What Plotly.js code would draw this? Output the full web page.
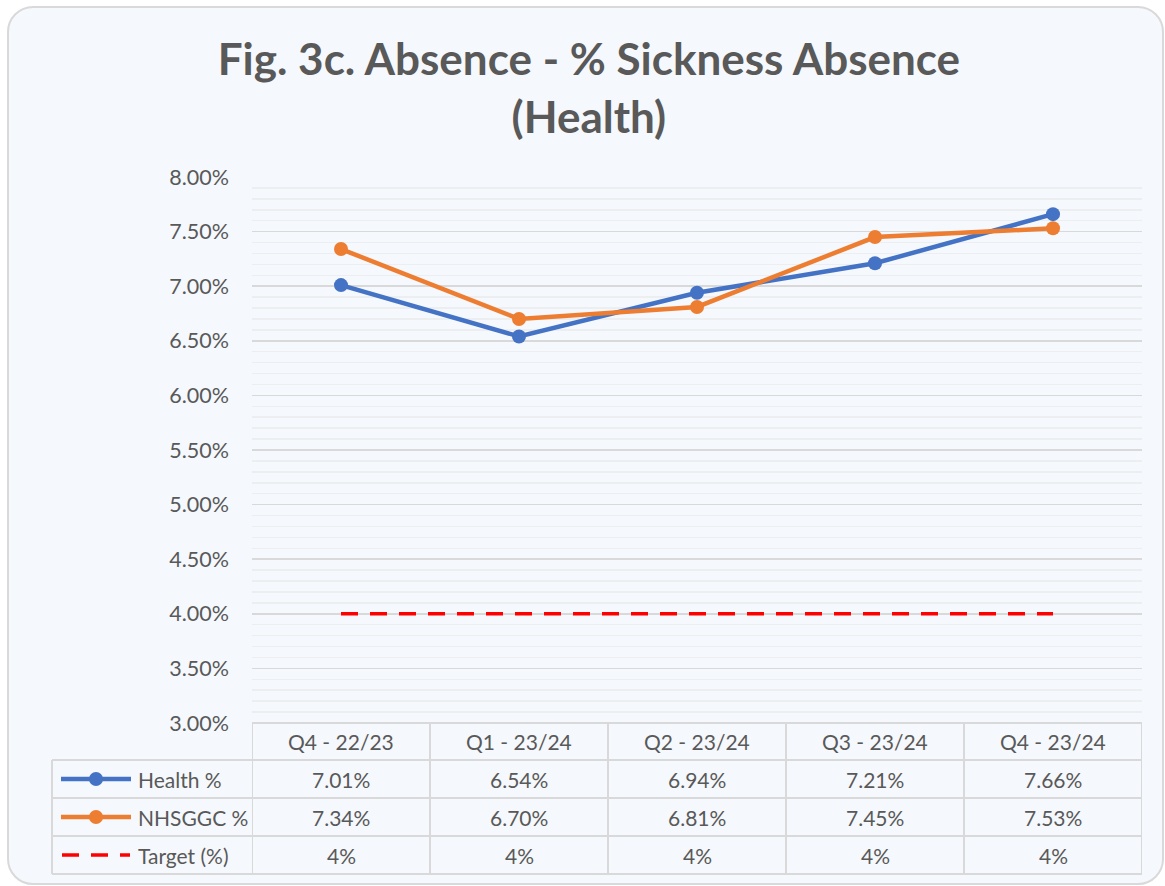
<!DOCTYPE html>
<html>
<head>
<meta charset="utf-8">
<script src="https://cdn.plot.ly/plotly-3.0.1.min.js"></script>
<style>
  html, body { margin:0; padding:0; background:#ffffff; }
  #frame { position:absolute; left:7px; top:6px; width:1153px; height:875px;
           border:2px solid #D9D9D9; border-radius:26px; background:#F5F8FC; }
  #chart { position:absolute; left:0; top:0; width:1165px; height:886px; }
</style>
</head>
<body>
<div id="frame"></div>
<div id="chart"></div>
<script>
const categories = ["Q4 - 22/23", "Q1 - 23/24", "Q2 - 23/24", "Q3 - 23/24", "Q4 - 23/24"];
const healthPct = [7.01, 6.54, 6.94, 7.21, 7.66];
const nhsggcPct = [7.34, 6.70, 6.81, 7.45, 7.53];
const targetPct = [4, 4, 4, 4, 4];
const seriesNames = ["Health %", "NHSGGC %", "Target (%)"];
const healthLabels = ["7.01%", "6.54%", "6.94%", "7.21%", "7.66%"];
const nhsggcLabels = ["7.34%", "6.70%", "6.81%", "7.45%", "7.53%"];
const targetLabels = ["4%", "4%", "4%", "4%", "4%"];

const W = 1165, H = 886;
const L = 252, R = 1142, T = 177, B = 723;
const font = "Lato, 'Open Sans', sans-serif";
const txt = "#595959";
const blue = "#4472C4", orange = "#ED7D31", red = "#FF0000";
const grid = "#D9D9D9";

const px = v => (v - L) / (R - L);
const py = v => (B - v) / (B - T);

const rowsY = [723, 760, 798, 836, 874];
const shapes = [];
const annotations = [];

// table horizontal lines
shapes.push({type:'line', xref:'paper', yref:'paper', x0:px(L), x1:px(R), y0:py(rowsY[0]), y1:py(rowsY[0]), line:{color:grid, width:2}});
for (let i = 1; i < rowsY.length; i++) {
  shapes.push({type:'line', xref:'paper', yref:'paper', x0:px(52), x1:px(R), y0:py(rowsY[i]), y1:py(rowsY[i]), line:{color:grid, width:2}});
}
// vertical lines
for (let k = 0; k <= categories.length; k++) {
  shapes.push({type:'line', xref:'x', yref:'paper', x0:k - 0.5, x1:k - 0.5, y0:py(723), y1:py(874), line:{color:grid, width:2}});
}
shapes.push({type:'line', xref:'paper', yref:'paper', x0:px(52), x1:px(52), y0:py(760), y1:py(874), line:{color:grid, width:2}});

// header + values
const tfs = 21;
const rowCenters = [741.5, 779, 817, 855];
const rowLabels = [healthLabels, nhsggcLabels, targetLabels];
categories.forEach((c, k) => {
  annotations.push({xref:'x', yref:'paper', x:k, y:py(rowCenters[0]), text:c, showarrow:false,
    font:{family:font, size:tfs, color:txt}, xanchor:'center', yanchor:'middle'});
  rowLabels.forEach((lab, r) => {
    annotations.push({xref:'x', yref:'paper', x:k, y:py(rowCenters[r+1]), text:lab[k], showarrow:false,
      font:{family:font, size:tfs, color:txt}, xanchor:'center', yanchor:'middle'});
  });
});

// legend keys in table
const keyColors = [blue, orange, red];
seriesNames.forEach((n, r) => {
  const yc = py(rowCenters[r+1]);
  if (r < 2) {
    shapes.push({type:'line', xref:'paper', yref:'paper', x0:px(61), x1:px(131), y0:yc, y1:yc, line:{color:keyColors[r], width:4.5}});
    shapes.push({type:'circle', xref:'paper', yref:'paper', x0:px(96-7), x1:px(96+7), y0:yc - 7/(B-T), y1:yc + 7/(B-T),
      fillcolor:keyColors[r], line:{color:keyColors[r], width:0}});
  } else {
    shapes.push({type:'line', xref:'paper', yref:'paper', x0:px(62), x1:px(130), y0:yc, y1:yc, line:{color:red, width:3.5, dash:'17px,12px'}});
  }
  annotations.push({xref:'paper', yref:'paper', x:px(136), y:yc, text:n, showarrow:false,
    font:{family:font, size:tfs, color:txt}, xanchor:'left', yanchor:'middle'});
});

const traces = [
  {x: categories, y: healthPct, name: seriesNames[0], type:'scatter', mode:'lines+markers',
   line:{color:blue, width:4.5}, marker:{color:blue, size:14}},
  {x: categories, y: nhsggcPct, name: seriesNames[1], type:'scatter', mode:'lines+markers',
   line:{color:orange, width:4.5}, marker:{color:orange, size:14}},
  {x: categories, y: targetPct, name: seriesNames[2], type:'scatter', mode:'lines',
   line:{color:red, width:3.5, dash:'17px,12px'}}
];

const layout = {
  width: W, height: H,
  paper_bgcolor:'rgba(0,0,0,0)', plot_bgcolor:'rgba(0,0,0,0)',
  margin:{l:L, r:W-R, t:T, b:H-B, pad:0},
  showlegend:false,
  title:{text:"Fig. 3c. Absence - % Sickness Absence<br>(Health)", x:0.5055, xanchor:'center', y:0.915, yanchor:'top',
    font:{family:font, size:44, color:txt, weight:'bold'}},
  xaxis:{type:'category', range:[-0.5, 4.5], showticklabels:false, showgrid:false, zeroline:false, showline:false, ticks:''},
  yaxis:{range:[3, 8], dtick:0.5, tick0:3, tickformat:'.2f', ticksuffix:'%', showgrid:true, gridcolor:grid, gridwidth:1.5,
    zeroline:false, showline:false, ticks:'', ticklabelstandoff:22,
    tickfont:{family:font, size:21.5, color:txt},
    minor:{dtick:0.1, showgrid:true, gridcolor:'#ECEEF0', gridwidth:1.5}},
  shapes: shapes,
  annotations: annotations
};

Plotly.newPlot('chart', traces, layout, {displayModeBar:false, staticPlot:true});
</script>
</body>
</html>
